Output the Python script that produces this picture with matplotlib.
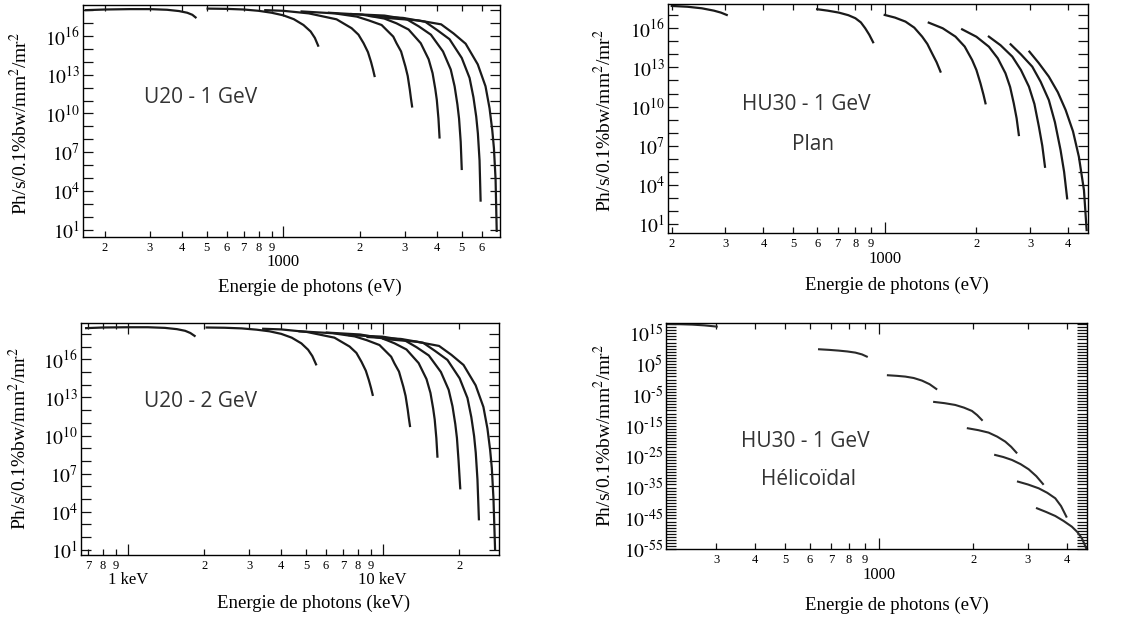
import numpy as np
import matplotlib
matplotlib.use('Agg')
import matplotlib.pyplot as plt
from matplotlib.ticker import FixedLocator, FixedFormatter, NullFormatter

plt.rcParams['font.family'] = ['Liberation Serif', 'DejaVu Serif']
plt.rcParams['mathtext.fontset'] = 'stix'

# ---- U20 - 1 GeV (eV, log10 flux), harmonics 1,3,...,15
u20_1_energy = [
    [168, 200, 250, 300, 350, 390, 420, 440, 453],
    [505, 600, 700, 800, 900, 1000, 1100, 1200, 1280, 1330, 1370],
    [850, 1000, 1259, 1618, 1854, 1972, 2065, 2148, 2208, 2249, 2280],
    [1180, 1592, 1943, 2168, 2430, 2700, 2780, 2897, 3013, 3076, 3135, 3165, 3200],
    [1510, 2040, 2490, 2780, 3100, 3460, 3715, 3850, 3945, 4000, 4060, 4100],
    [1850, 2495, 3045, 3396, 3792, 4230, 4537, 4698, 4817, 4890, 4963, 5010],
    [2180, 2948, 3602, 4018, 4487, 5010, 5377, 5568, 5710, 5796, 5884, 5940],
    [2520, 3400, 4160, 4650, 5190, 5790, 6210, 6440, 6600, 6700, 6800, 6870],
]
u20_1_logflux = [
    [18.0, 18.05, 18.08, 18.08, 18.03, 17.93, 17.8, 17.64, 17.44],
    [18.12, 18.1, 18.05, 17.95, 17.8, 17.6, 17.3, 16.85, 16.35, 15.85, 15.25],
    [18.0, 17.95, 17.75, 17.29, 16.6, 16.1, 15.44, 14.75, 14.0, 13.4, 12.9],
    [17.9, 17.75, 17.5, 17.2, 16.85, 15.95, 15.44, 14.8, 13.63, 12.9, 11.83, 11.2, 10.54],
    [17.8, 17.65, 17.35, 16.98, 16.5, 15.44, 14.2, 13.12, 11.9, 11.05, 9.6, 8.14],
    [17.7, 17.58, 17.3, 16.75, 16.1, 14.8, 13.4, 12.1, 10.7, 9.6, 7.8, 5.7],
    [17.55, 17.4, 17.1, 16.45, 15.75, 14.3, 12.75, 11.25, 9.75, 8.45, 6.35, 3.25],
    [17.4, 17.2, 16.9, 16.2, 15.4, 13.8, 12.1, 10.4, 8.7, 7.3, 4.9, 0.9],
]

# ---- HU30 - 1 GeV, plan (eV)
hu30p_energy = [
    [200, 225, 251, 275, 290, 303],
    [600, 650, 707, 760, 801, 835, 863, 890, 916],
    [1000, 1080, 1170, 1250, 1327, 1380, 1430, 1480, 1524],
    [1395, 1550, 1707, 1830, 1936, 2000, 2062, 2110, 2142],
    [1795, 2000, 2197, 2350, 2491, 2580, 2652, 2710, 2756],
    [2197, 2400, 2623, 2800, 2974, 3100, 3207, 3290, 3358],
    [2590, 2800, 3050, 3250, 3457, 3620, 3777, 3880, 3970],
    [2985, 3200, 3456, 3700, 3925, 4150, 4338, 4508, 4600],
]
hu30p_logflux = [
    [17.71, 17.65, 17.53, 17.35, 17.2, 17.02],
    [17.46, 17.35, 17.2, 17.0, 16.77, 16.45, 16.0, 15.5, 14.93],
    [17.02, 16.82, 16.51, 16.05, 15.36, 14.8, 14.08, 13.4, 12.68],
    [16.43, 16.0, 15.36, 14.6, 13.57, 12.8, 11.78, 10.9, 10.25],
    [15.92, 15.35, 14.59, 13.7, 12.55, 11.5, 10.25, 9.1, 7.82],
    [15.36, 14.7, 13.83, 12.8, 11.53, 10.2, 8.46, 7.0, 5.39],
    [14.77, 14.0, 13.06, 11.9, 10.5, 8.8, 6.67, 5.0, 2.97],
    [14.21, 13.35, 12.3, 11.1, 9.74, 8.1, 6.16, 3.6, 0.54],
]

# ---- U20 - 2 GeV (keV)
u20_2_energy = [
    [0.687, 0.8, 1.0, 1.2, 1.4, 1.56, 1.68, 1.76, 1.83],
    [2.04, 2.4, 2.8, 3.2, 3.6, 4.0, 4.4, 4.8, 5.1, 5.3, 5.48],
    [3.4, 4.0, 5.04, 6.47, 7.42, 7.89, 8.26, 8.59, 8.83, 9.0, 9.14],
    [4.72, 6.37, 7.77, 8.67, 9.72, 10.8, 11.12, 11.59, 12.05, 12.3, 12.54, 12.66, 12.8],
    [6.04, 8.16, 9.96, 11.12, 12.4, 13.84, 14.86, 15.4, 15.78, 16.0, 16.24, 16.4],
    [7.4, 9.98, 12.18, 13.58, 15.17, 16.92, 18.15, 18.79, 19.27, 19.56, 19.85, 20.15],
    [8.72, 11.79, 14.41, 16.07, 17.95, 20.04, 21.51, 22.27, 22.84, 23.18, 23.54, 23.85],
    [10.08, 13.6, 16.64, 18.6, 20.76, 23.16, 24.84, 25.76, 26.4, 26.8, 27.2, 27.6],
]
u20_2_logflux = [
    [18.45, 18.5, 18.52, 18.52, 18.47, 18.37, 18.24, 18.07, 17.84],
    [18.5, 18.48, 18.43, 18.33, 18.2, 18.0, 17.7, 17.25, 16.75, 16.25, 15.6],
    [18.4, 18.35, 18.15, 17.7, 17.0, 16.5, 15.8, 15.1, 14.35, 13.75, 13.2],
    [18.2, 18.05, 17.8, 17.5, 17.12, 16.2, 15.68, 15.03, 13.85, 13.12, 12.04, 11.41, 10.75],
    [18.1, 17.95, 17.65, 17.26, 16.77, 15.7, 14.44, 13.35, 12.12, 11.26, 9.8, 8.34],
    [17.9, 17.78, 17.5, 16.95, 16.3, 15.0, 13.6, 12.3, 10.9, 9.8, 8.0, 5.85],
    [17.75, 17.6, 17.3, 16.65, 15.95, 14.5, 12.95, 11.45, 9.95, 8.65, 6.55, 3.41],
    [17.6, 17.38, 17.05, 16.35, 15.55, 13.95, 12.25, 10.55, 8.85, 7.45, 5.05, 1.05],
]

# ---- HU30 - 1 GeV, helicoidal (eV)
hu30h_energy = [
    [207, 230, 251, 275, 301],
    [641, 690, 741, 790, 838, 880, 912],
    [1066, 1140, 1212, 1290, 1371, 1450, 1524],
    [1500, 1620, 1753, 1870, 1983, 2060, 2134],
    [1924, 2080, 2243, 2390, 2536, 2650, 2754],
    [2354, 2500, 2665, 2840, 3015, 3190, 3351],
    [2786, 3000, 3246, 3460, 3670, 3830, 3983],
    [3206, 3430, 3670, 3900, 4147, 4320, 4468, 4613],
]
hu30h_logflux = [
    [18.0, 17.92, 17.8, 17.55, 17.16],
    [9.81, 9.62, 9.38, 9.1, 8.73, 8.15, 7.44],
    [1.39, 1.2, 0.96, 0.5, -0.34, -1.5, -3.04],
    [-7.25, -7.65, -8.23, -9.1, -10.17, -11.5, -13.09],
    [-15.79, -16.4, -17.19, -18.5, -20.1, -21.8, -23.67],
    [-24.43, -25.1, -26.05, -27.4, -29.07, -31.3, -33.83],
    [-33.07, -34.0, -35.23, -36.7, -38.47, -41.0, -44.41],
    [-41.71, -42.9, -44.2, -45.8, -47.66, -49.4, -51.44, -54.68],
]

ylab = 'Ph/s/0.1%bw/mm$^2$/mr$^2$'


def exp_label(e):
    # the original uses a plain hyphen for negative exponents
    if e < 0:
        return r'$10^{\text{-}%d}$' % (-e)
    return r'$10^{%d}$' % e


def setup(ax, xlim, ylim, xmaj, xmaj_lab, xmin, xmin_lab, yexp_maj, yexp_min, xlabel):
    ax.set_xscale('log')
    ax.set_yscale('log')
    ax.xaxis.set_major_locator(FixedLocator(xmaj))
    ax.xaxis.set_major_formatter(FixedFormatter(xmaj_lab))
    ax.xaxis.set_minor_locator(FixedLocator(xmin))
    ax.xaxis.set_minor_formatter(FixedFormatter(xmin_lab))
    ax.yaxis.set_major_locator(FixedLocator([10.0 ** e for e in yexp_maj]))
    ax.yaxis.set_major_formatter(FixedFormatter([exp_label(e) for e in yexp_maj]))
    ax.yaxis.set_minor_locator(FixedLocator([10.0 ** e for e in yexp_min]))
    ax.yaxis.set_minor_formatter(NullFormatter())
    ax.set_xlim(xlim)
    ax.set_ylim(ylim)
    ax.tick_params(which='both', direction='in', top=True, right=True, width=0.9, color='#111111')
    ax.tick_params(axis='x', which='major', length=8, pad=12.5, labelsize=12)
    ax.tick_params(axis='x', which='minor', length=4, pad=3.4, labelsize=9)
    ax.tick_params(axis='y', which='both', length=7, pad=2, labelsize=14)
    for s in ax.spines.values():
        s.set_linewidth(1.0)
    ax.set_xlabel(xlabel, fontsize=13.5)
    ax.set_ylabel(ylab, fontsize=14)
    ax.xaxis.label.set_va('center')
    ax.yaxis.label.set_va('center')


fig = plt.figure(figsize=(11.44, 6.24), dpi=100)
ax1 = fig.add_axes([0.0726, 0.6202, 0.3645, 0.3718])
ax2 = fig.add_axes([0.5837, 0.6261, 0.3674, 0.3675])
ax3 = fig.add_axes([0.0708, 0.1106, 0.3654, 0.3723])
ax4 = fig.add_axes([0.5822, 0.1197, 0.3680, 0.3632])

curve_col = '#1a1a1a'
for E, F in zip(u20_1_energy, u20_1_logflux):
    ax1.plot(E, 10.0 ** np.array(F), color=curve_col, lw=1.6)
for E, F in zip(hu30p_energy, hu30p_logflux):
    ax2.plot(E, 10.0 ** np.array(F), color=curve_col, lw=1.6)
for E, F in zip(u20_2_energy, u20_2_logflux):
    ax3.plot(E, 10.0 ** np.array(F), color=curve_col, lw=1.6)
for E, F in zip(hu30h_energy, hu30h_logflux):
    ax4.plot(E, 10.0 ** np.array(F), color='#2a2a2a', lw=1.5)

y_maj = [1, 4, 7, 10, 13, 16]
setup(ax1, (164, 7080), (10 ** 0.43, 10 ** 18.4),
      [1000], ['1000'],
      [200, 300, 400, 500, 600, 700, 800, 900, 2000, 3000, 4000, 5000, 6000],
      ['2', '3', '4', '5', '6', '7', '8', '9', '2', '3', '4', '5', '6'],
      y_maj, list(range(1, 19)), 'Energie de photons (eV)')
setup(ax2, (194, 4650), (10 ** 0.29, 10 ** 17.86),
      [1000], ['1000'],
      [200, 300, 400, 500, 600, 700, 800, 900, 2000, 3000, 4000],
      ['2', '3', '4', '5', '6', '7', '8', '9', '2', '3', '4'],
      y_maj, list(range(1, 18)), 'Energie de photons (eV)')
setup(ax3, (0.656, 28.6), (10 ** 0.6, 10 ** 18.88),
      [1, 10], ['1 keV', '10 keV'],
      [0.7, 0.8, 0.9, 2, 3, 4, 5, 6, 7, 8, 9, 20],
      ['7', '8', '9', '2', '3', '4', '5', '6', '7', '8', '9', '2'],
      y_maj, list(range(1, 19)), 'Energie de photons (keV)')
setup(ax4, (207, 4640), (1e-55, 10 ** 18.43),
      [1000], ['1000'],
      [300, 400, 500, 600, 700, 800, 900, 2000, 3000, 4000],
      ['3', '4', '5', '6', '7', '8', '9', '2', '3', '4'],
      [15, 5, -5, -15, -25, -35, -45, -55], list(range(-55, 19)),
      'Energie de photons (eV)')

ax1.xaxis.set_label_coords(0.544, -0.216)
ax2.xaxis.set_label_coords(0.546, -0.227)
ax3.xaxis.set_label_coords(0.556, -0.207)
ax4.xaxis.set_label_coords(0.548, -0.247)
ax1.yaxis.set_label_coords(-0.150, 0.49)
ax2.yaxis.set_label_coords(-0.151, 0.494)
ax3.yaxis.set_label_coords(-0.147, 0.50)
ax4.yaxis.set_label_coords(-0.147, 0.504)

tkw = dict(ha='center', va='baseline', fontsize=15, color='#333333',
           family=['Open Sans', 'DejaVu Sans'])
ax1.text(0.282, 0.577, 'U20 - 1 GeV', transform=ax1.transAxes, **tkw)
ax2.text(0.329, 0.538, 'HU30 - 1 GeV', transform=ax2.transAxes, **tkw)
ax2.text(0.345, 0.363, 'Plan', transform=ax2.transAxes, **tkw)
ax3.text(0.287, 0.638, 'U20 - 2 GeV', transform=ax3.transAxes, **tkw)
ax4.text(0.330, 0.453, 'HU30 - 1 GeV', transform=ax4.transAxes, **tkw)
ax4.text(0.338, 0.284, 'Hélicoïdal', transform=ax4.transAxes, **tkw)

fig.savefig('out.png', dpi=100)
